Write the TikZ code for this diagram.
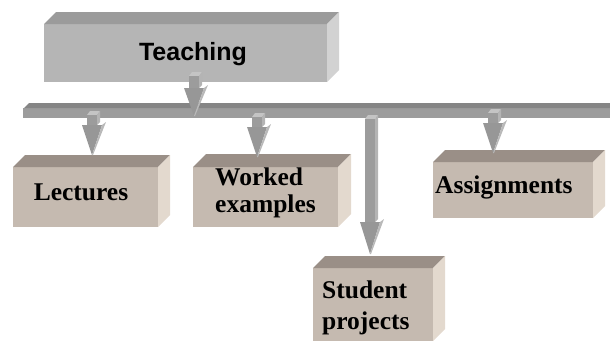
\documentclass[tikz,border=0pt]{standalone}
\usepackage{fontspec}
\setmainfont{Liberation Serif}
\newfontfamily\arialfont{Liberation Sans}
\definecolor{tfront}{HTML}{B5B5B5}
\definecolor{ttop}{HTML}{9B9B9B}
\definecolor{tside}{HTML}{D2D2D2}
\definecolor{bfront}{HTML}{C5BAB0}
\definecolor{btop}{HTML}{9A8F87}
\definecolor{bside}{HTML}{E3D9CE}
\definecolor{bartop}{HTML}{858585}
\definecolor{barfront}{HTML}{9C9C9C}
\definecolor{afront}{HTML}{9C9C9C}
\definecolor{atop}{HTML}{C4C4C4}
\definecolor{aside}{HTML}{B4B4B4}
\definecolor{hfront}{HTML}{979797}
\definecolor{hside}{HTML}{B9B9B9}
\tikzset{
  graybox/.style={fill=tfront, inner sep=0pt, outer sep=0pt, anchor=north west},
  tanbox/.style={fill=bfront, inner sep=0pt, outer sep=0pt, anchor=north west},
  boxlabel/.style={font=\fontsize{25.5}{28}\selectfont\bfseries, inner sep=0pt, align=left},
  titlelabel/.style={font=\arialfont\fontsize{25}{28}\selectfont\bfseries, inner sep=0pt},
}
% 3D faces of a box node: #1 name, #2 depth, #3 top colour, #4 side colour
\newcommand\boxfaces[4]{%
  \fill[#3] (#1.north west) -- ++(#2,-#2) -- ([shift={(#2,-#2)}]#1.north east) -- (#1.north east) -- cycle;
  \fill[#4] (#1.north east) -- ++(#2,-#2) -- ([shift={(#2,-#2)}]#1.south east) -- (#1.south east) -- cycle;
}
% 3D arrow: centre x, shaft top y, head start y, tip y
\newcommand\darrow[4]{%
  \fill[atop] (#1-5,#2) -- (#1-2,#2-4) -- (#1+8,#2-4) -- (#1+5,#2) -- cycle;
  \fill[aside] (#1+5,#2) -- (#1+8,#2-4) -- (#1+8,#3-3) -- (#1+5,#3) -- cycle;
  \fill[afront] (#1-5,#2) rectangle (#1+5,#3);
  \fill[hfront] (#1-10,#3) -- (#1+10,#3) -- (#1,#4) -- cycle;
  \fill[hside] (#1+10,#3) -- (#1+14,#3-3) -- (#1+1,#4) -- (#1,#4) -- cycle;
}
\begin{document}
\begin{tikzpicture}[x=1pt,y=-1pt]
\useasboundingbox (0,0) rectangle (610,341);
% Teaching box
\node[graybox, minimum width=283pt, minimum height=58pt] (teach) at (44,24) {};
\boxfaces{teach}{12}{ttop}{tside}
\node[titlelabel, anchor=base] (teacht) at (193,60) {Teaching};
% bar
\fill[barfront] (23,108) rectangle (610,118);
\fill[bartop] (29,103) -- (610,103) -- (610,108) -- (24,108) -- cycle;
\coordinate (barleft) at (23,110);
% lower boxes
\node[tanbox, minimum width=145pt, minimum height=60pt] (lect) at (13,167) {};
\boxfaces{lect}{12}{btop}{bside}
\node[boxlabel, anchor=base] (lectt) at (81,200) {Lectures};
\node[tanbox, minimum width=145pt, minimum height=60pt] (work) at (193,167) {};
\boxfaces{work}{13}{btop}{bside}
\node[boxlabel, anchor=base west] (workt1) at (215,185) {Worked};
\node[boxlabel, anchor=base west] (workt2) at (215,212) {examples};
\node[tanbox, minimum width=160pt, minimum height=56pt] (assg) at (433,162) {};
\boxfaces{assg}{12}{btop}{bside}
\node[boxlabel, anchor=base west] (assgt) at (435,193) {Assignments};
\node[tanbox, minimum width=120pt, minimum height=73pt] (stud) at (313,268) {};
\boxfaces{stud}{12}{btop}{bside}
\node[boxlabel, anchor=base west] (studt1) at (322,298) {Student};
\node[boxlabel, anchor=base west] (studt2) at (322,329) {projects};
% arrows
\darrow{194}{76}{88}{116}
\darrow{92}{115}{125}{155}
\darrow{257}{117}{127}{157}
\darrow{493}{113}{123}{153}
\darrow{370}{119}{222}{254}
\end{tikzpicture}
\end{document}
